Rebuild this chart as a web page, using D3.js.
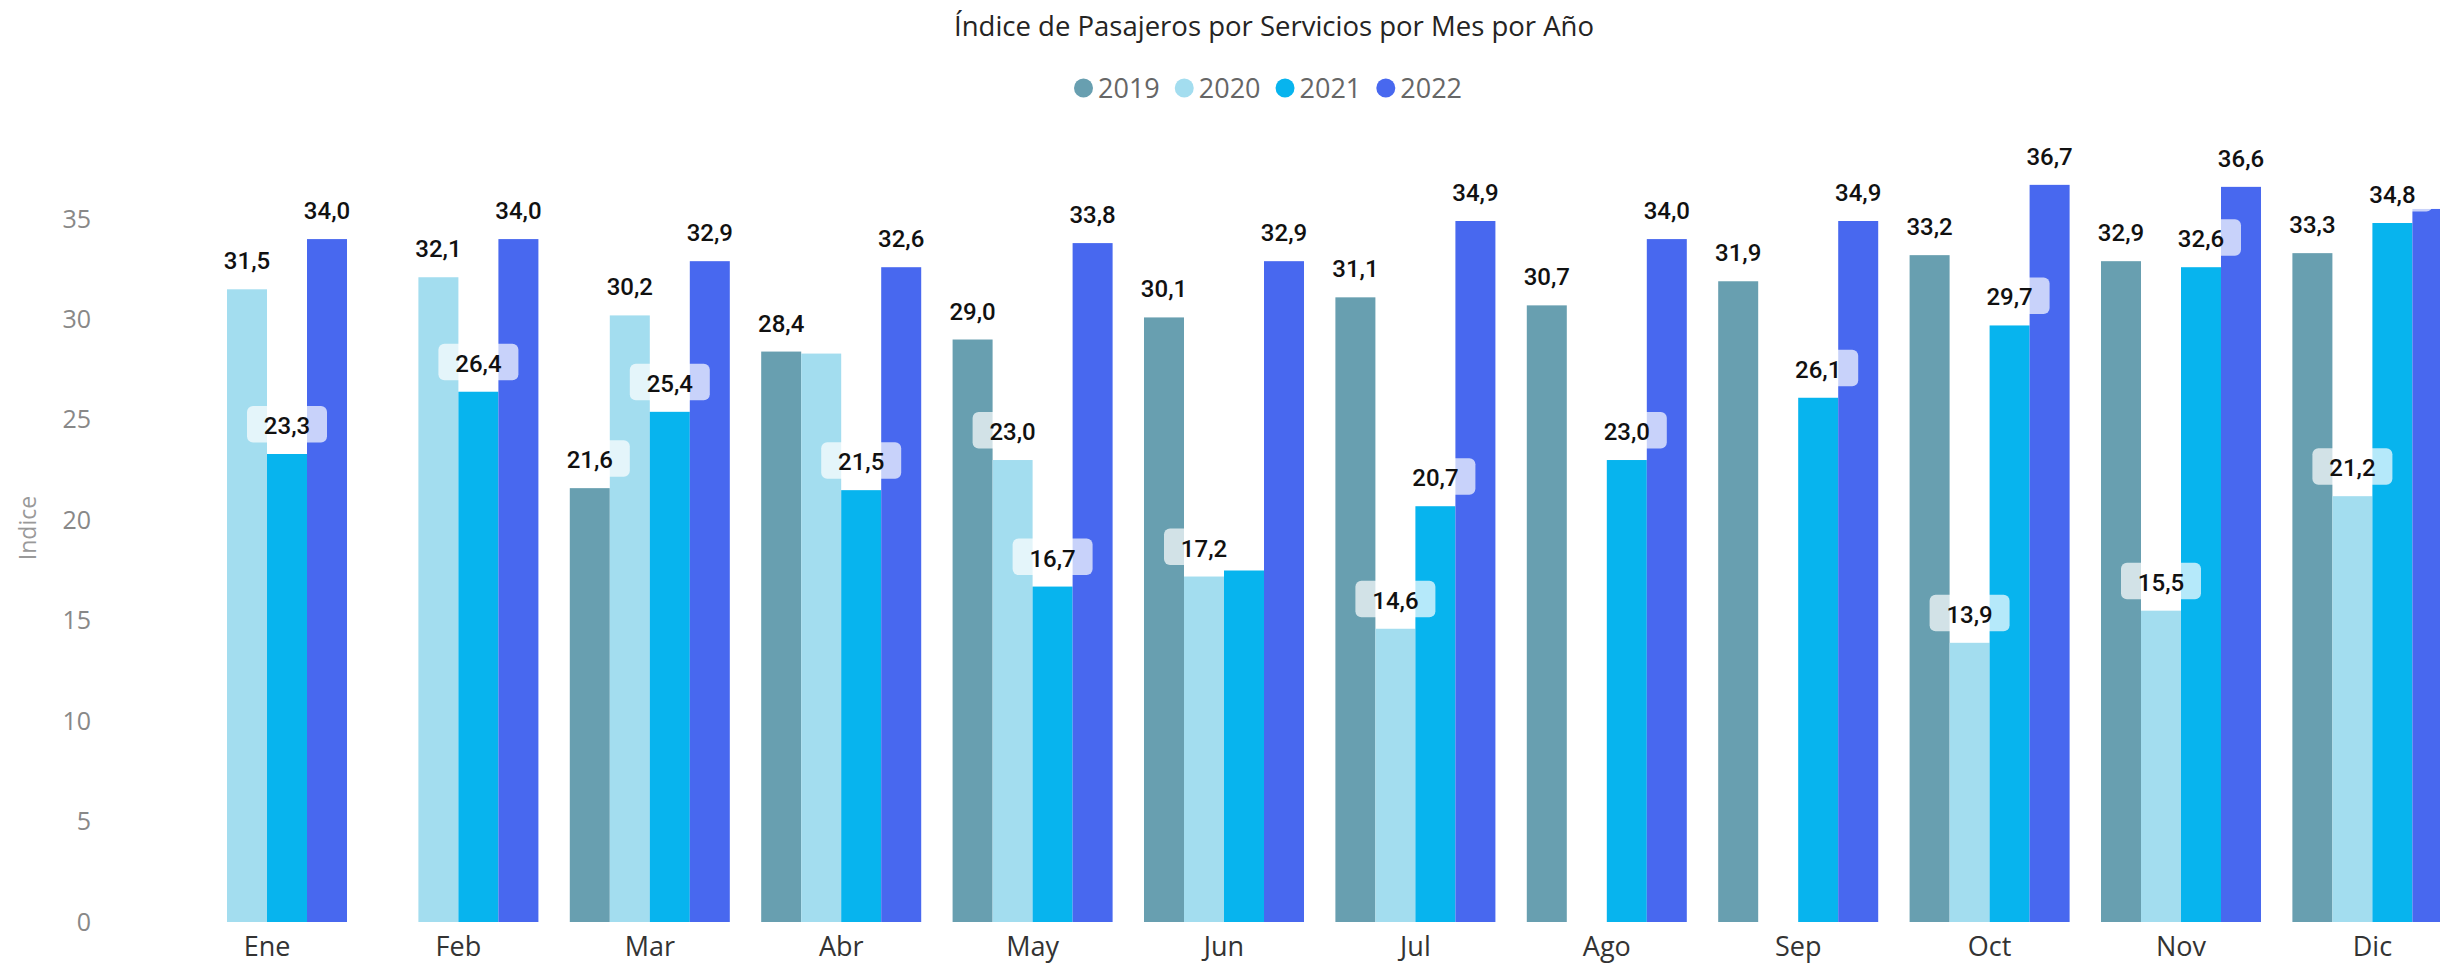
<!DOCTYPE html>
<html>
<head>
<meta charset="utf-8">
<script src="https://cdnjs.cloudflare.com/ajax/libs/d3/7.8.5/d3.min.js"></script>
<style>
  body { margin: 0; background: #fff; }
  svg { display: block; }
  .axis text { font-family: "Segoe UI", "Open Sans", sans-serif; }
  .bar-label { font-family: Roboto, sans-serif; font-weight: 500; }
</style>
</head>
<body>
<div id="chart"></div>
<script>
// data
var months = ["Ene", "Feb", "Mar", "Abr", "May", "Jun", "Jul", "Ago", "Sep", "Oct", "Nov", "Dic"];
var years = ["2019", "2020", "2021", "2022"];
var v2019 = [null, null, 21.6, 28.4, 29.0, 30.1, 31.1, 30.7, 31.9, 33.2, 32.9, 33.3];
var v2020 = [31.5, 32.1, 30.2, 28.3, 23.0, 17.2, 14.6, null, null, 13.9, 15.5, 21.2];
var v2021 = [23.3, 26.4, 25.4, 21.5, 16.7, 17.5, 20.7, 23.0, 26.1, 29.7, 32.6, 34.8];
var v2022 = [34.0, 34.0, 32.9, 32.6, 33.8, 32.9, 34.9, 34.0, 34.9, 36.7, 36.6, 35.5];
// labels that the original hides (collisions / off the edge)
var hiddenLabels = ["Abr-2020", "Jun-2021", "Dic-2022"];
var yTicks = [0, 5, 10, 15, 20, 25, 30, 35];

var colours = {
  "2019": "#689fb0",
  "2020": "#a3ddef",
  "2021": "#07b4ee",
  "2022": "#4868ef"
};

var width = 2440;
var height = 965;

var seriesByYear = { "2019": v2019, "2020": v2020, "2021": v2021, "2022": v2022 };

var rows = [];
months.forEach(function(m, i) {
  years.forEach(function(yr) {
    rows.push({ month: m, year: yr, value: seriesByYear[yr][i] });
  });
});

var svg = d3.select("#chart")
            .append("svg")
              .attr("width", width)
              .attr("height", height);

// scales
var step = 191.4;
var x0 = 171.3;
var xScale = d3.scaleBand()
                .domain(months)
                .range([x0, x0 + step * months.length])
                .paddingInner(0.164)
                .paddingOuter(0.082);

var xInner = d3.scaleBand()
                .domain(years)
                .range([0, xScale.bandwidth()]);

var yScale = d3.scaleLinear()
                .domain([0, 35])
                .range([922, 219]);

var fmt = d3.formatLocale({ decimal: ",", thousands: ".", grouping: [3], currency: ["", ""] }).format(".1f");

// title
svg.append("text")
    .attr("x", 1274)
    .attr("y", 36)
    .attr("text-anchor", "middle")
    .style("font-family", "'Segoe UI', 'Open Sans', sans-serif")
    .style("font-size", "27.5px")
    .style("fill", "#252423")
    .text("Índice de Pasajeros por Servicios por Mes por Año");

// legend
var legend = svg.append("g")
                  .attr("class", "legend")
                  .attr("transform", "translate(1074,88)");
var lx = 0;
years.forEach(function(yr) {
  legend.append("circle")
      .attr("cx", lx + 9.5)
      .attr("cy", 0)
      .attr("r", 9.5)
      .attr("fill", colours[yr]);
  var t = legend.append("text")
      .attr("x", lx + 24)
      .attr("y", 10)
      .style("font-family", "'Segoe UI', 'Open Sans', sans-serif")
      .style("font-size", "27px")
      .style("fill", "#666")
      .text(yr);
  lx += 24 + t.node().getComputedTextLength() + 15;
});

// axes
var yAxis = d3.axisLeft(yScale).tickValues(yTicks).tickSize(0).tickPadding(0);
var gy = svg.append("g")
      .attr("class", "axis y-axis")
      .attr("transform", "translate(91,0)")
      .call(yAxis);
gy.select(".domain").remove();
gy.selectAll("text").style("font-size", "25px").style("fill", "#888");

svg.append("text")
    .attr("transform", "translate(36,528) rotate(-90)")
    .attr("text-anchor", "middle")
    .style("font-family", "'Segoe UI', 'Open Sans', sans-serif")
    .style("font-size", "23px")
    .style("fill", "#999")
    .text("Indice");

var xAxis = d3.axisBottom(xScale).tickSize(0).tickPadding(15);
var gx = svg.append("g")
      .attr("class", "axis x-axis")
      .attr("transform", "translate(0,922)")
      .call(xAxis);
gx.select(".domain").remove();
gx.selectAll("text").style("font-size", "27px").style("fill", "#333");

// bars
var bars = rows.filter(function(d) { return d.value != null; });

svg.append("g")
    .attr("class", "bars")
    .selectAll("rect")
    .data(bars)
    .enter()
  .append("rect")
    .attr("x", function(d) { return xScale(d.month) + xInner(d.year); })
    .attr("y", function(d) { return yScale(d.value); })
    .attr("width", xInner.bandwidth())
    .attr("height", function(d) { return yScale(0) - yScale(d.value); })
    .attr("fill", function(d) { return colours[d.year]; });

// data labels
var labelled = bars.filter(function(d) {
  return hiddenLabels.indexOf(d.month + "-" + d.year) < 0;
});

var labels = svg.append("g")
                  .attr("class", "labels")
                  .selectAll("g")
                  .data(labelled)
                  .enter()
                .append("g")
                  .attr("transform", function(d) {
                    var cx = xScale(d.month) + xInner(d.year) + xInner.bandwidth() / 2;
                    return "translate(" + cx + "," + yScale(d.value) + ")";
                  });

labels.append("rect")
    .attr("x", -40)
    .attr("y", -48)
    .attr("width", 80)
    .attr("height", 36.5)
    .attr("rx", 6)
    .attr("fill", "#fff")
    .attr("fill-opacity", 0.7);

labels.append("text")
    .attr("class", "bar-label")
    .attr("x", 0)
    .attr("y", -20)
    .attr("text-anchor", "middle")
    .style("font-size", "24px")
    .style("fill", "#111")
    .text(function(d) { return fmt(d.value); });
</script>
</body>
</html>
